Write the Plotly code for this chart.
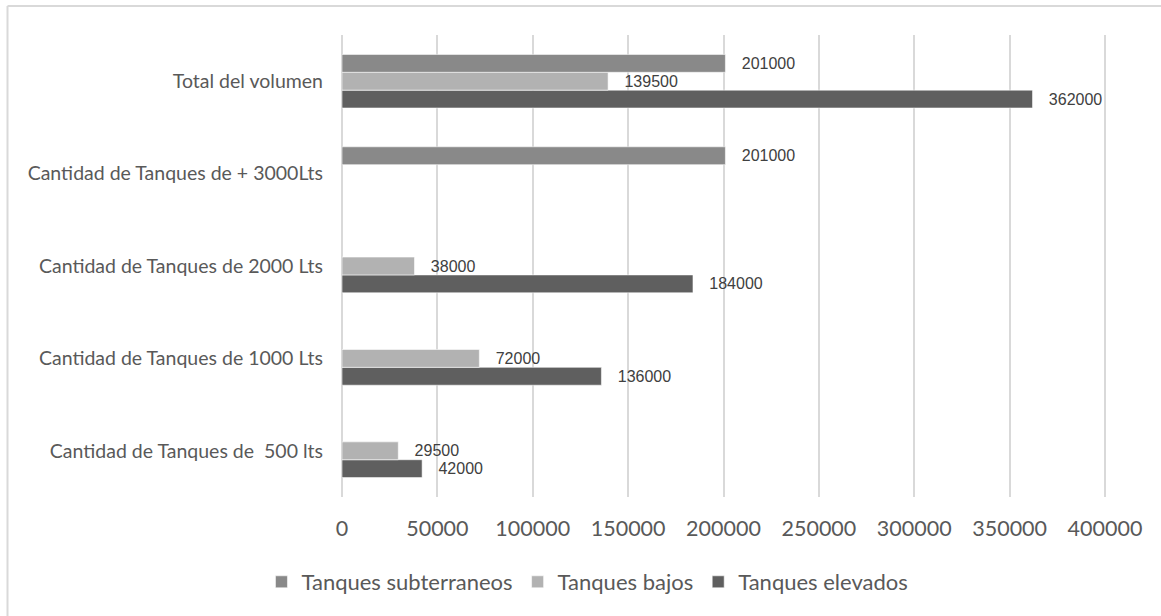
import plotly.graph_objects as go

categories = [
    "Cantidad de Tanques de\u00a0 500 lts",
    "Cantidad de Tanques de 1000 Lts",
    "Cantidad de Tanques de 2000 Lts",
    "Cantidad de Tanques de + 3000Lts",
    "Total del volumen",
]
subterraneos = [None, None, None, 201000, 201000]
bajos = [29500, 72000, 38000, None, 139500]
elevados = [42000, 136000, 184000, None, 362000]

series = [
    ("Tanques elevados", elevados, "#5f5f5f"),
    ("Tanques bajos", bajos, "#b2b2b2"),
    ("Tanques subterraneos", subterraneos, "#898989"),
]

W, H = 1161, 616
L, R, T, B = 342, 54, 35, 119
PW, PH = W - L - R, H - T - B
XMAX = 400000 * PW / 763

def px_x(p):
    return (p - L) / PW

def px_y(p):
    return (H - B - p) / PH

fig = go.Figure()
pad = "\u00a0" * 3
for name, vals, color in series:
    fig.add_trace(go.Bar(
        name=name,
        y=categories,
        x=vals,
        orientation="h",
        marker=dict(color=color, line=dict(color="rgba(255,255,255,0.55)", width=1)),
        text=[(pad + str(v)) if v is not None else "" for v in vals],
        textposition="outside",
        constraintext="none",
        cliponaxis=False,
        outsidetextfont=dict(family="Liberation Sans, Arial", size=16, color="#404040"),
        hoverinfo="x+y",
    ))

grid = "#d9d9d9"
fig.update_layout(
    width=W, height=H,
    margin=dict(l=L, r=R, t=T, b=B, autoexpand=False),
    paper_bgcolor="white", plot_bgcolor="white",
    barmode="group", bargap=0.42, bargroupgap=0,
    font=dict(family="Lato, Carlito, Calibri, sans-serif", color="#595959"),
    showlegend=True,
    legend=dict(
        orientation="h", traceorder="reversed",
        xref="container", yref="container",
        x=0.506, xanchor="center", y=1 - 582 / H, yanchor="middle",
        font=dict(size=22, color="#595959"),
        itemclick=False, itemdoubleclick=False,
    ),
    xaxis=dict(
        range=[0, XMAX], dtick=50000, tick0=0,
        showgrid=True, gridcolor=grid, gridwidth=1.5,
        zeroline=True, zerolinecolor=grid, zerolinewidth=1.5,
        showline=False, ticks="",
        tickformat="d",
        tickfont=dict(size=21.5, color="#595959"),
        ticklabelstandoff=16,
        fixedrange=True,
    ),
    yaxis=dict(
        type="category",
        categoryorder="array", categoryarray=categories,
        showgrid=False, zeroline=False, showline=False, ticks="",
        tickfont=dict(size=19.5, color="#595959"),
        ticklabelstandoff=18,
        fixedrange=True,
    ),
    shapes=[
        dict(type="line", xref="paper", yref="paper",
             x0=px_x(7.5), x1=px_x(7.5), y0=px_y(6), y1=px_y(H + 2),
             line=dict(color="#d9d9d9", width=2)),
        dict(type="line", xref="paper", yref="paper",
             x0=px_x(7.5), x1=px_x(W + 2), y0=px_y(6), y1=px_y(6),
             line=dict(color="#d9d9d9", width=2)),
    ],
)

fig.write_html("out.html")
